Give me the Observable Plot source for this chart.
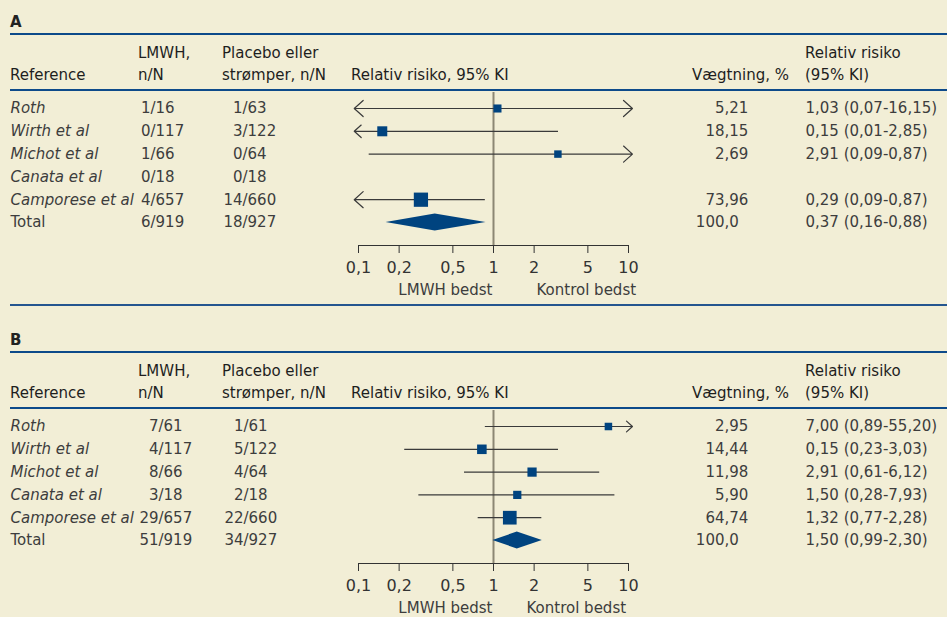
<!DOCTYPE html>
<html><head><meta charset="utf-8">
<script src="https://cdn.jsdelivr.net/npm/d3@7"></script>
<script src="https://cdn.jsdelivr.net/npm/@observablehq/plot@0.6"></script>
<style>
html,body{margin:0;padding:0;background:#f2eed6;}
#root{position:relative;width:947px;height:617px;overflow:hidden;font-family:"DejaVu Sans",sans-serif;color:#3d3d3d;}
.panel{position:absolute;left:0;width:947px;height:300px;}
.lbl{position:absolute;left:10px;top:12px;font-weight:bold;font-size:15px;line-height:20px;color:#222;}
.rule{position:absolute;left:10px;right:0;height:2px;background:#0d4a8a;}
.hd{position:absolute;top:42px;font-size:15px;line-height:22px;color:#1e1e1e;white-space:nowrap;}
.panel svg{position:absolute;left:0;top:0;}
.sep{position:absolute;left:10px;right:0;top:304px;height:2px;background:#24558f;}
</style></head><body><div id="root"></div>
<script>
// ---- shared ----
const studies = ["Roth", "Wirth et al", "Michot et al", "Canata et al", "Camporese et al", "Total"];
const tickValues = [0.1, 0.2, 0.5, 1, 2, 5, 10];
const tickLabels = ["0,1", "0,2", "0,5", "1", "2", "5", "10"];

// ---- panel A ----
const aLmwh = ["1/16", "0/117", "1/66", "0/18", "4/657", "6/919"];
const aCtrl = ["1/63", "3/122", "0/64", "0/18", "14/660", "18/927"];
const aWeightText = ["5,21", "18,15", "2,69", "", "73,96", "100,0"];
const aRRText = ["1,03 (0,07-16,15)", "0,15 (0,01-2,85)", "2,91 (0,09-0,87)", "", "0,29 (0,09-0,87)", "0,37 (0,16-0,88)"];
const aRR = [1.07, 0.15, 3.0, null, 0.29, 0.37];
const aLo = [0.07, 0.01, 0.12, null, 0.09, 0.16];
const aHi = [16.15, 3.03, 12, null, 0.87, 0.88];
const aWeight = [5.21, 18.15, 2.69, null, 73.96, 100];

// ---- panel B ----
const bLmwh = ["7/61", "4/117", "8/66", "3/18", "29/657", "51/919"];
const bCtrl = ["1/61", "5/122", "4/64", "2/18", "22/660", "34/927"];
const bWeightText = ["2,95", "14,44", "11,98", "5,90", "64,74", "100,0"];
const bRRText = ["7,00 (0,89-55,20)", "0,15 (0,23-3,03)", "2,91 (0,61-6,12)", "1,50 (0,28-7,93)", "1,32 (0,77-2,28)", "1,50 (0,99-2,30)"];
const bRR = [7.1, 0.82, 1.93, 1.50, 1.32, 1.50];
const bLo = [0.87, 0.22, 0.61, 0.28, 0.77, 0.99];
const bHi = [55.2, 3.03, 6.12, 7.93, 2.28, 2.30];
const bWeight = [2.95, 14.44, 11.98, 5.90, 64.74, 100];

const labelOf = new Map(tickValues.map((v, i) => [v, tickLabels[i]]));
const BLUE = "#00437f";
const TXT = "#3d3d3d";
const FS = 15;

function panel(top, letter, d, opts) {
  const root = document.getElementById("root");
  const p = document.createElement("div");
  p.className = "panel";
  p.style.top = top + "px";
  p.innerHTML = `
    <div class="lbl">${letter}</div>
    <div class="rule" style="top:33px"></div>
    <div class="hd" style="left:10px">&nbsp;<br>Reference</div>
    <div class="hd" style="left:138px">LMWH,<br>n/N</div>
    <div class="hd" style="left:222px">Placebo eller<br>strømper, n/N</div>
    <div class="hd" style="left:351px">&nbsp;<br>Relativ risiko, 95% KI</div>
    <div class="hd" style="right:${947 - 789}px;text-align:right">&nbsp;<br>Vægtning, %</div>
    <div class="hd" style="left:805px">Relativ risiko<br>(95% KI)</div>
    <div class="rule" style="top:89px"></div>`;
  root.appendChild(p);

  const rows = studies.map((name, i) => ({
    i, name, total: i === studies.length - 1,
    lmwh: d.lmwh[i], ctrl: d.ctrl[i], wt: d.wt[i], rrText: d.rrText[i],
    rr: d.rr[i], lo: d.lo[i], hi: d.hi[i], w: d.w[i]
  }));

  const ML = 358, MR = 947 - 628, MT = 92, MB = 55, H = 300;
  const row0 = 108, step = 22.8;
  const yDom = [(H - MB - row0) / step, (MT - row0) / step];
  const tipLo = 0.093, tipHi = 10.7;

  const segs = [];
  rows.forEach(r => {
    if (r.total || r.rr == null) return;
    const lc = r.lo < 0.1, hc = r.hi > 10;
    segs.push({ y: r.i, x1: r.rr, x2: lc ? tipLo : r.lo, arrow: lc });
    segs.push({ y: r.i, x1: r.rr, x2: hc ? tipHi : r.hi, arrow: hc });
  });
  const studyPts = rows.filter(r => !r.total && r.rr != null);
  const t = rows[rows.length - 1];
  const dh = 0.37;
  const diamond = [
    { x: t.lo, y1: t.i, y2: t.i },
    { x: t.rr, y1: t.i - dh, y2: t.i + dh },
    { x: t.hi, y1: t.i, y2: t.i }
  ];
  const col = (x) => x - ML;
  const txt = (data, o) => Plot.text(data, { y: "i", frameAnchor: "left", fontSize: FS, fill: TXT, ...o });

  const chart = Plot.plot({
    width: 947, height: H,
    marginLeft: ML, marginRight: MR, marginTop: MT, marginBottom: MB,
    style: { background: "transparent", fontFamily: "DejaVu Sans", fontSize: "15px", overflow: "visible" },
    x: { type: "log", domain: [0.1, 10], axis: null },
    y: { domain: yDom, axis: null },
    r: { type: "sqrt", domain: [0, 100], range: [3.3, 8.8] },
    marks: [
      Plot.ruleX([1], { stroke: "#8c8774", strokeWidth: 2 }),
      Plot.ruleY([yDom[0]], { stroke: "#333", strokeWidth: 1.2 }),
      Plot.axisX({ ticks: tickValues, tickFormat: v => labelOf.get(v), tickSize: 8, tickPadding: 8,
        fontSize: 16, stroke: "#333", fill: "#333", label: null }),
      Plot.ruleY(segs.filter(s => !s.arrow), { y: "y", x1: "x1", x2: "x2", stroke: "#3a3a3a", strokeWidth: 1.2 }),
      Plot.arrow(segs.filter(s => s.arrow), { x1: "x1", x2: "x2", y1: "y", y2: "y", stroke: "#3a3a3a",
        strokeWidth: 1.2, headAngle: 84, headLength: 15 }),
      Plot.dot(studyPts, { x: "rr", y: "i", r: "w", symbol: "square", fill: BLUE }),
      Plot.areaY(diamond, { x: "x", y1: "y1", y2: "y2", fill: BLUE }),
      // table text
      txt(rows.filter(r => !r.total), { text: "name", dx: col(10), textAnchor: "start", fontStyle: "italic" }),
      txt(rows.filter(r => r.total), { text: "name", dx: col(10), textAnchor: "start" }),
      txt(rows, { text: r => r.lmwh.split("/")[0], dx: col(opts.lmwhSlash), textAnchor: "end" }),
      txt(rows, { text: r => "/" + r.lmwh.split("/")[1], dx: col(opts.lmwhSlash), textAnchor: "start" }),
      txt(rows, { text: r => r.ctrl.split("/")[0], dx: col(opts.ctrlSlash), textAnchor: "end" }),
      txt(rows, { text: r => "/" + r.ctrl.split("/")[1], dx: col(opts.ctrlSlash), textAnchor: "start" }),
      txt(rows.filter(r => r.wt), { text: r => r.wt.split(",")[0], dx: col(724), textAnchor: "end" }),
      txt(rows.filter(r => r.wt), { text: r => "," + r.wt.split(",")[1], dx: col(724), textAnchor: "start" }),
      txt(rows, { text: "rrText", dx: col(805), textAnchor: "start" }),
      // favour labels
      Plot.text([{ x: 1, s: "LMWH bedst" }], { x: "x", text: "s", frameAnchor: "bottom", lineAnchor: "middle",
        dy: 44.5, dx: -1, textAnchor: "end", fontSize: FS, fill: TXT }),
      Plot.text([{ x: 1, s: "Kontrol bedst" }], { x: "x", text: "s", frameAnchor: "bottom", lineAnchor: "middle",
        dy: 44.5, dx: opts.kontrolDx, textAnchor: "start", fontSize: FS, fill: TXT })
    ]
  });
  p.appendChild(chart);
}

panel(0, "A", { lmwh: aLmwh, ctrl: aCtrl, wt: aWeightText, rrText: aRRText, rr: aRR, lo: aLo, hi: aHi, w: aWeight },
  { lmwhSlash: 150, ctrlSlash: 242, kontrolDx: 43 });
panel(318, "B", { lmwh: bLmwh, ctrl: bCtrl, wt: bWeightText, rrText: bRRText, rr: bRR, lo: bLo, hi: bHi, w: bWeight },
  { lmwhSlash: 158, ctrlSlash: 243, kontrolDx: 33 });
const sep = document.createElement("div");
sep.className = "sep";
document.getElementById("root").appendChild(sep);
</script></body></html>
